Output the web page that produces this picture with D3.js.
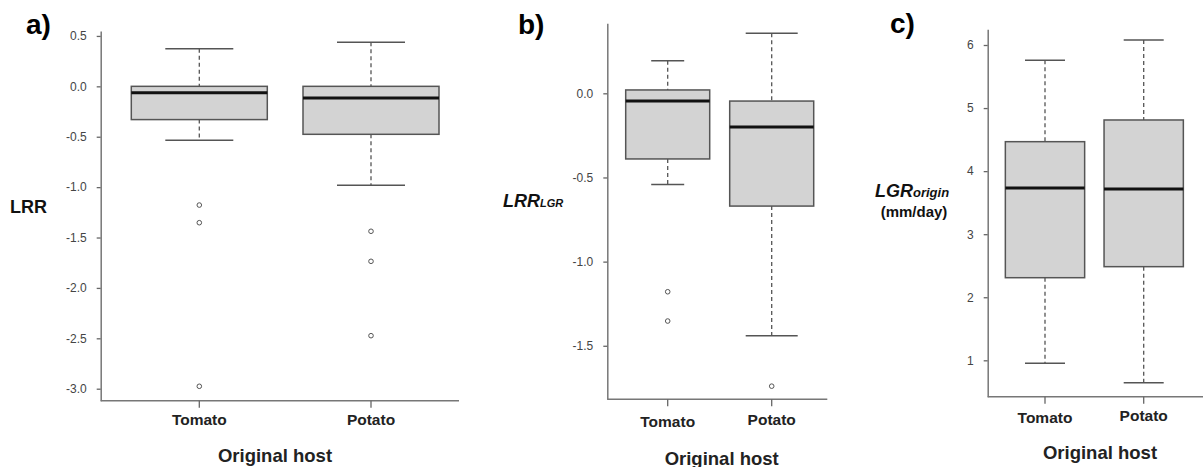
<!DOCTYPE html>
<html>
<head>
<meta charset="utf-8">
<script src="https://cdn.jsdelivr.net/npm/d3@7"></script>
<style>
  body { margin: 0; background: #fff; }
  svg text { font-family: "Liberation Sans", Arial, sans-serif; }
</style>
</head>
<body>
<svg width="1203" height="467"></svg>
<script>
var hosts = ["Tomato", "Potato"];

// box stats per host: [lower whisker, q1, median, q3, upper whisker]
var lrrStats = [[-0.536, -0.33, -0.063, 0.0, 0.373], [-0.982, -0.476, -0.116, 0.0, 0.437]];
var lrrOutliers = [[-1.178, -1.353, -2.976], [-1.438, -1.736, -2.474]];
var lrrTicks = [0.5, 0.0, -0.5, -1.0, -1.5, -2.0, -2.5, -3.0];

var lgrLrrStats = [[-0.542, -0.39, -0.046, 0.02, 0.194], [-1.44, -0.67, -0.2, -0.046, 0.357]];
var lgrLrrOutliers = [[-1.179, -1.353], [-1.74]];
var lgrLrrTicks = [0.0, -0.5, -1.0, -1.5];

var lgrStats = [[0.952, 2.31, 3.732, 4.467, 5.757], [0.645, 2.485, 3.716, 4.811, 6.079]];
var lgrOutliers = [[], []];
var lgrTicks = [1, 2, 3, 4, 5, 6];

var svg = d3.select('svg');

// plain hyphen instead of unicode minus, like the original
function hyphen(f){
  return function(v){ return f(v).replace('\u2212', '-'); };
}

// layout for each panel (pixels)
var panels = [
  {letter: 'a)', stats: lrrStats, outliers: lrrOutliers, ticks: lrrTicks, fmt: hyphen(d3.format('.1f')),
   axisX: 100.7, right: 459, top: 31, bottom: 400.7, domain: [-3.119, 0.549],
   centers: [199.3, 371], boxW: 136, capW: [68, 68],
   letterX: 26, letterY: 34, labelY: [425, 425], hostY: 461.7, hostX: 275},
  {letter: 'b)', stats: lgrLrrStats, outliers: lgrLrrOutliers, ticks: lgrLrrTicks, fmt: hyphen(d3.format('.1f')),
   axisX: 607.3, right: 827.3, top: 23.3, bottom: 399.3, domain: [-1.818, 0.416],
   centers: [667.7, 771.7], boxW: 84, capW: [33, 52],
   letterX: 518, letterY: 34, labelY: [426.7, 425], hostY: 464.5, hostX: 721.7},
  {letter: 'c)', stats: lgrStats, outliers: lgrOutliers, ticks: lgrTicks, fmt: d3.format('d'),
   axisX: 987.7, right: 1203, top: 29.3, bottom: 396.7, domain: [0.423, 6.249],
   centers: [1045, 1143.7], boxW: 79.3, capW: [40, 40],
   letterX: 890, letterY: 33, labelY: [422.7, 421], hostY: 459.3, hostX: 1100}
];

function drawPanel(p){
  var g = svg.append('g');

  var yScale = d3.scaleLinear().domain(p.domain).range([p.bottom, p.top]);
  var xScale = d3.scaleOrdinal().domain(hosts).range(p.centers);

  // y axis
  var yAxis = g.append('g')
    .attr('transform', `translate(${p.axisX}, 0)`)
    .call(d3.axisLeft(yScale)
      .tickValues(p.ticks)
      .tickFormat(p.fmt)
      .tickSize(4)
      .tickSizeOuter(0)
      .tickPadding(10));
  yAxis.select('.domain').attr('stroke', '#777').attr('stroke-width', 1.5);
  yAxis.selectAll('.tick line').attr('stroke', '#666').attr('stroke-width', 1.3);
  yAxis.selectAll('.tick text')
    .attr('fill', '#444')
    .style('font-size', '12px');

  // x axis
  g.append('line')
    .attr('x1', p.axisX).attr('x2', p.right)
    .attr('y1', p.bottom).attr('y2', p.bottom)
    .attr('stroke', '#777').attr('stroke-width', 1.5);

  hosts.forEach(function(h, i){
    var cx = xScale(h);
    g.append('line')
      .attr('x1', cx).attr('x2', cx)
      .attr('y1', p.bottom).attr('y2', p.bottom + 7)
      .attr('stroke', '#666').attr('stroke-width', 1.3);
    g.append('text')
      .attr('x', cx).attr('y', p.labelY[i])
      .attr('text-anchor', 'middle')
      .style('font-size', '15.5px').style('font-weight', 'bold')
      .attr('fill', '#222')
      .text(h);
  });

  // boxes
  var boxes = g.selectAll('g.box')
    .data(hosts.map(function(h, i){ return {host: h, i: i, s: p.stats[i], out: p.outliers[i]}; }))
    .enter()
    .append('g')
    .classed('box', true);

  // whiskers (dashed)
  boxes.append('line')
    .attr('x1', d => xScale(d.host)).attr('x2', d => xScale(d.host))
    .attr('y1', d => yScale(d.s[4])).attr('y2', d => yScale(d.s[3]))
    .attr('stroke', '#555').attr('stroke-width', 1.3).attr('stroke-dasharray', '4,3');
  boxes.append('line')
    .attr('x1', d => xScale(d.host)).attr('x2', d => xScale(d.host))
    .attr('y1', d => yScale(d.s[1])).attr('y2', d => yScale(d.s[0]))
    .attr('stroke', '#555').attr('stroke-width', 1.3).attr('stroke-dasharray', '4,3');

  // caps
  [0, 4].forEach(function(k){
    boxes.append('line')
      .attr('x1', d => xScale(d.host) - p.capW[d.i] / 2).attr('x2', d => xScale(d.host) + p.capW[d.i] / 2)
      .attr('y1', d => yScale(d.s[k])).attr('y2', d => yScale(d.s[k]))
      .attr('stroke', '#555').attr('stroke-width', 1.5);
  });

  boxes.append('rect')
    .attr('x', d => xScale(d.host) - p.boxW / 2)
    .attr('width', p.boxW)
    .attr('y', d => yScale(d.s[3]))
    .attr('height', d => yScale(d.s[1]) - yScale(d.s[3]))
    .attr('fill', '#d3d3d3')
    .attr('stroke', '#555').attr('stroke-width', 1.5);

  // median
  boxes.append('line')
    .attr('x1', d => xScale(d.host) - p.boxW / 2).attr('x2', d => xScale(d.host) + p.boxW / 2)
    .attr('y1', d => yScale(d.s[2])).attr('y2', d => yScale(d.s[2]))
    .attr('stroke', '#111').attr('stroke-width', 3);

  // outliers
  boxes.selectAll('circle')
    .data(d => d.out.map(v => ({host: d.host, v: v})))
    .enter()
    .append('circle')
      .attr('cx', d => xScale(d.host))
      .attr('cy', d => yScale(d.v))
      .attr('r', 2.3)
      .attr('fill', 'none')
      .attr('stroke', '#555')
      .attr('stroke-width', 1);

  // panel letter
  g.append('text')
    .attr('x', p.letterX).attr('y', p.letterY)
    .style('font-size', '28px').style('font-weight', 'bold')
    .attr('fill', '#000')
    .text(p.letter);

  // x title
  g.append('text')
    .attr('x', p.hostX).attr('y', p.hostY)
    .attr('text-anchor', 'middle')
    .style('font-size', '18.5px').style('font-weight', 'bold')
    .attr('fill', '#222')
    .text('Original host');

  return g;
}

var ga = drawPanel(panels[0]);
var gb = drawPanel(panels[1]);
var gc = drawPanel(panels[2]);

// y titles
ga.append('text')
  .attr('x', 10).attr('y', 213.3)
  .style('font-size', '18px').style('font-weight', 'bold')
  .attr('fill', '#111')
  .text('LRR');

var tb = gb.append('text')
  .attr('x', 503).attr('y', 206.7)
  .style('font-weight', 'bold').style('font-style', 'italic')
  .attr('fill', '#111');
tb.append('tspan').style('font-size', '18px').text('LRR');
tb.append('tspan').style('font-size', '11px').text('LGR');

var tc = gc.append('text')
  .attr('x', 875).attr('y', 196.7)
  .style('font-weight', 'bold').style('font-style', 'italic')
  .attr('fill', '#111');
tc.append('tspan').style('font-size', '18px').text('LGR');
tc.append('tspan').style('font-size', '13px').text('origin');

gc.append('text')
  .attr('x', 914).attr('y', 216.7)
  .attr('text-anchor', 'middle')
  .style('font-size', '15px').style('font-weight', 'bold')
  .attr('fill', '#111')
  .text('(mm/day)');
</script>
</body>
</html>
